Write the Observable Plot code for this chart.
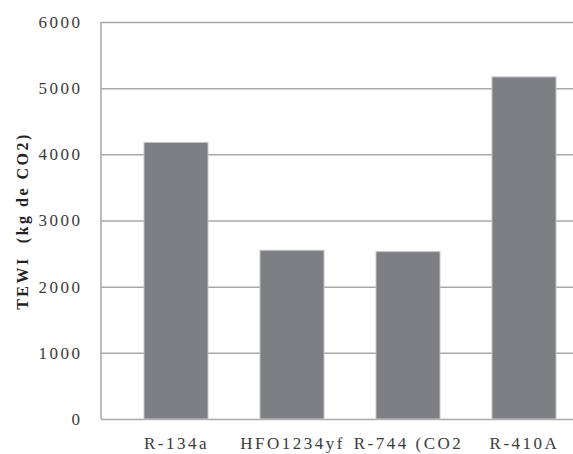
<!DOCTYPE html>
<html><head><meta charset="utf-8">
<script src="https://cdn.jsdelivr.net/npm/d3@7"></script>
<script src="https://cdn.jsdelivr.net/npm/@observablehq/plot@0.6"></script>
<style>
body{margin:0;background:#fff}
svg text{letter-spacing:2.5px;white-space:pre}
</style>
</head><body><div id="chart"></div>
<script>
const refrigerants = ["R-134a", "HFO1234yf", "R-744 (CO2", "R-410A"];
const tewi = [4180, 2550, 2530, 5170];
const yTicks = [0, 1000, 2000, 3000, 4000, 5000, 6000];
const yLabel = "TEWI  (kg de CO2)";

const rows = refrigerants.map((r, i) => ({refrigerant: r, tewi: tewi[i]}));

function leftAxisLine(index, scales, values, dimensions) {
  const {marginLeft, marginTop, marginBottom, height} = dimensions;
  const line = document.createElementNS("http://www.w3.org/2000/svg", "line");
  line.setAttribute("x1", marginLeft);
  line.setAttribute("x2", marginLeft);
  line.setAttribute("y1", marginTop);
  line.setAttribute("y2", height - marginBottom);
  line.setAttribute("stroke", "#a9a9a9");
  line.setAttribute("stroke-width", 1.5);
  return line;
}

const chart = Plot.plot({
  width: 573,
  height: 454,
  marginLeft: 101,
  marginRight: 0,
  marginTop: 22,
  marginBottom: 35,
  style: {fontFamily: "'Liberation Serif', 'Times New Roman', serif", fontSize: "17px", color: "#3a3a3a", background: "#fff"},
  x: {domain: refrigerants, range: [118, 582], paddingInner: 0.45, paddingOuter: 0.225, tickSize: 0, tickPadding: 17, label: null},
  y: {domain: [0, 6000], ticks: yTicks, tickFormat: d => String(d), tickSize: 0, tickPadding: 19, label: null},
  marks: [
    Plot.ruleY(yTicks, {stroke: "#a9a9a9", strokeWidth: 1.5}),
    Plot.barY(rows, {x: "refrigerant", y: "tewi", fill: "#7e7f83", stroke: "#c6c6c8", strokeWidth: 1}),
    leftAxisLine,
    Plot.text([yLabel], {text: d => d, frameAnchor: "left", rotate: -90, dx: -79, textAnchor: "middle", fontWeight: "bold", fontSize: 16, fill: "#222"})
  ]
});
document.getElementById("chart").append(chart);
</script>
</body></html>
